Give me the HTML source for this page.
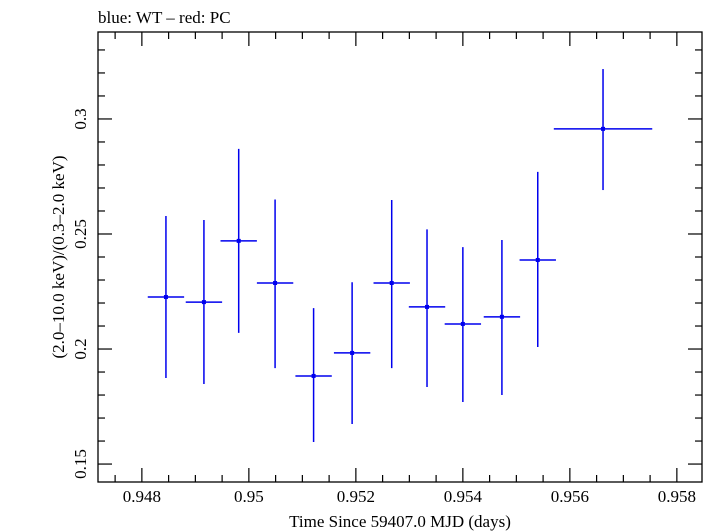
<!DOCTYPE html>
<html><head><meta charset="utf-8"><style>
html,body{margin:0;padding:0;background:#fff;}
svg{display:block;font-family:"Liberation Serif",serif;}
</style></head><body>
<svg id="chart" width="711" height="532" viewBox="0 0 711 532">
<text x="98" y="23" font-size="17" fill="#000">blue: WT – red: PC</text>
<rect x="98" y="32" width="604" height="450" fill="none" stroke="#000" stroke-width="1.3"/>
<g id="axes"></g>
<g id="series"></g>
<text x="400" y="527" font-size="17" text-anchor="middle">Time Since 59407.0 MJD (days)</text>
<text transform="translate(64,257) rotate(-90)" font-size="17" text-anchor="middle">(2.0–10.0 keV)/(0.3–2.0 keV)</text>
</svg>
<script>
const times=[0.94845,0.94916,0.94981,0.95049,0.95121,0.95193,0.95267,0.95333,0.95400,0.95473,0.95540,0.95662];
const ratios=[0.2226,0.2204,0.2470,0.2287,0.1883,0.1983,0.2287,0.2183,0.2109,0.2140,0.2387,0.2957];
const ratioHigh=[0.2578,0.2561,0.2870,0.2650,0.2178,0.2290,0.2648,0.2520,0.2443,0.2474,0.2770,0.3217];
const ratioLow=[0.1874,0.1848,0.2070,0.1917,0.1596,0.1674,0.1917,0.1835,0.1770,0.1800,0.2009,0.2691];
const timeErr=[0.00034,0.00034,0.00034,0.00034,0.00034,0.00034,0.00034,0.00034,0.00034,0.00034,0.00034,0.00092];
const xTicks=[0.948,0.95,0.952,0.954,0.956,0.958];
const xTickLabels=["0.948","0.95","0.952","0.954","0.956","0.958"];
const yTicks=[0.15,0.2,0.25,0.3];
const yTickLabels=["0.15","0.2","0.25","0.3"];
const X0=98,X1=702,Y0=32,Y1=482;
const xMin=0.94718,xMax=0.95847,yMin=0.1422,yMax=0.3378;
const xs=v=>X0+(v-xMin)/(xMax-xMin)*(X1-X0);
const ys=v=>Y1-(v-yMin)/(yMax-yMin)*(Y1-Y0);
const NS="http://www.w3.org/2000/svg";
function mk(tag,attrs,parent){const e=document.createElementNS(NS,tag);for(const k in attrs)e.setAttribute(k,attrs[k]);parent.appendChild(e);return e;}
const ax=document.getElementById('axes');
for(let v=0.947;v<=0.9585;v+=0.0005){
  const vv=Math.round(v*10000)/10000; if(vv<xMin||vv>xMax)continue;
  const major=Math.abs(Math.round(vv*500)-vv*500)<1e-6;
  const len=major?14:7,x=xs(vv);
  const t1=mk('line',{x1:x,x2:x,y1:Y1,y2:Y1-len,stroke:'#000','stroke-width':1.2},ax);
  
  
  const t2=mk('line',{x1:x,x2:x,y1:Y0,y2:Y0+len,stroke:'#000','stroke-width':1.2},ax);
  
  
}
xTicks.forEach((v,i)=>{
  const t=mk('text',{x:xs(v),y:502,'font-size':17,'text-anchor':'middle'},ax);t.textContent=xTickLabels[i];
  
  
});
for(let k=15;k<=33;k++){
  const v=k/100,major=k%5===0,len=major?14:7,y=ys(v);
  const t1=mk('line',{x1:X0,x2:X0+len,y1:y,y2:y,stroke:'#000','stroke-width':1.2},ax);
  
  
  const t2=mk('line',{x1:X1,x2:X1-len,y1:y,y2:y,stroke:'#000','stroke-width':1.2},ax);
  
  
}
yTicks.forEach((v,i)=>{
  const t=mk('text',{transform:`translate(86,${ys(v)}) rotate(-90)`,'font-size':17,'text-anchor':'middle'},ax);t.textContent=yTickLabels[i];
  
  
});
const sg=document.getElementById('series');
times.forEach((t,i)=>{
  const x=xs(t),y=ys(ratios[i]);
  const v=mk('line',{x1:x,x2:x,y1:ys(ratioHigh[i]),y2:ys(ratioLow[i]),stroke:'#0000ee','stroke-width':1.5},sg);
  
  
  const h=mk('line',{x1:xs(t-timeErr[i]),x2:xs(t+timeErr[i]),y1:y,y2:y,stroke:'#0000ee','stroke-width':1.5},sg);
  
  
  const p=mk('rect',{x:x-2,y:y-2,width:4,height:4,fill:'#0000ee'},sg);
  
  
});
</script>
</body></html>
